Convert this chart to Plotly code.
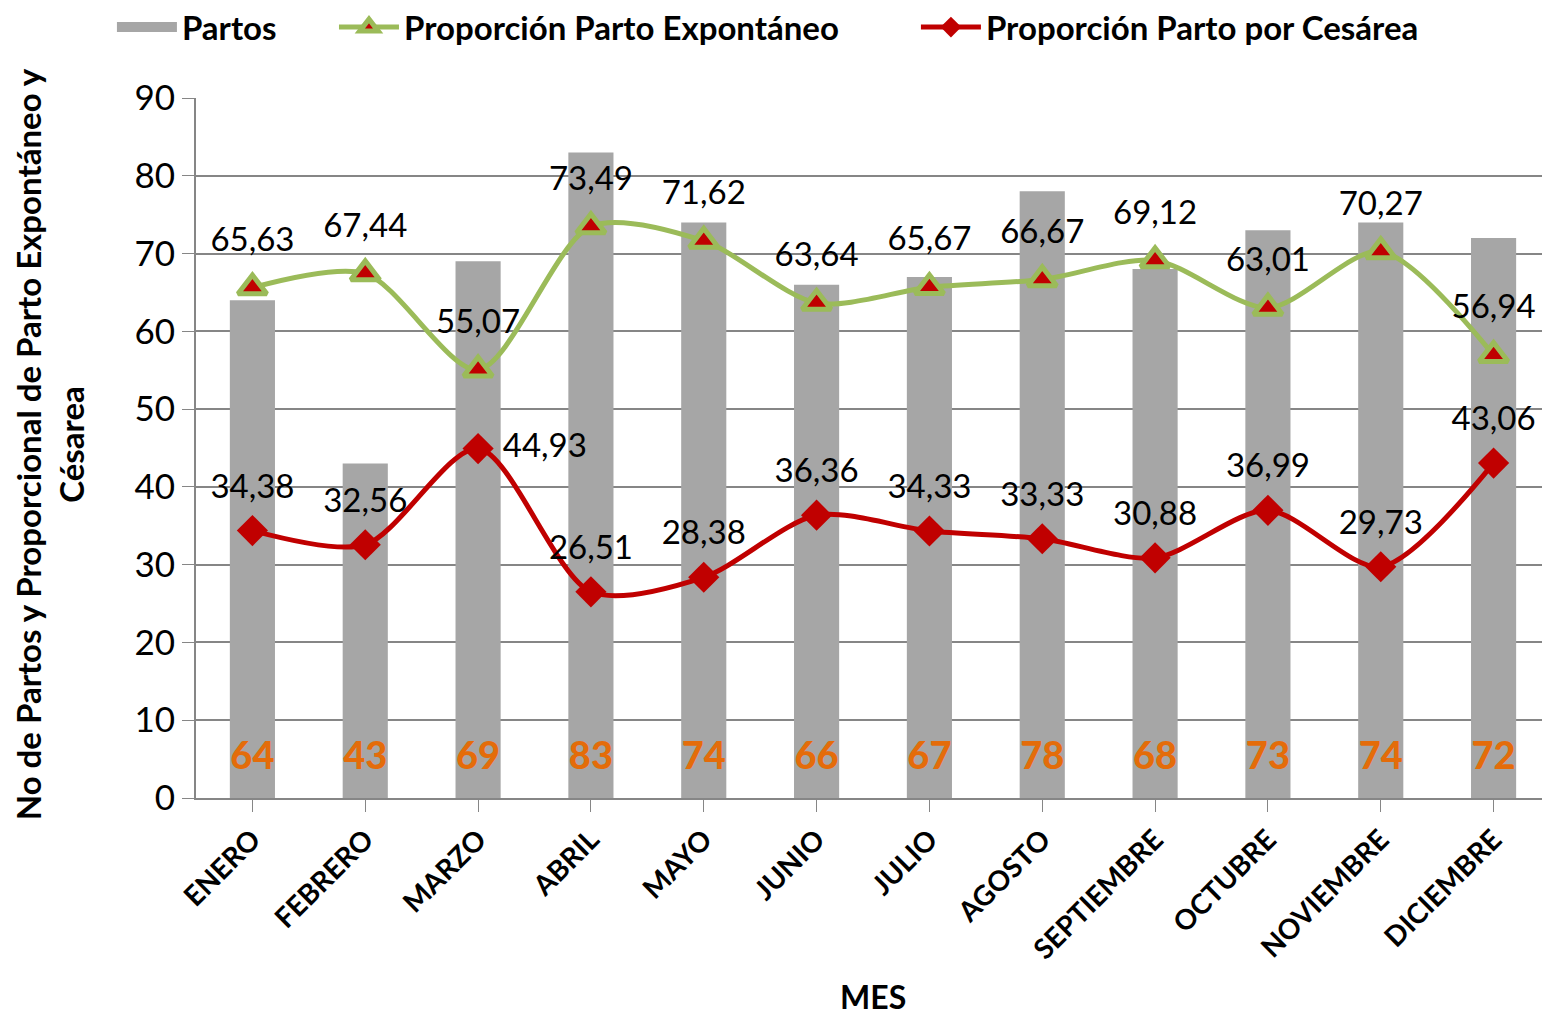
import plotly.graph_objects as go

meses = ["ENERO", "FEBRERO", "MARZO", "ABRIL", "MAYO", "JUNIO", "JULIO",
         "AGOSTO", "SEPTIEMBRE", "OCTUBRE", "NOVIEMBRE", "DICIEMBRE"]
partos = [64, 43, 69, 83, 74, 66, 67, 78, 68, 73, 74, 72]
espontaneo = [65.63, 67.44, 55.07, 73.49, 71.62, 63.64, 65.67, 66.67, 69.12, 63.01, 70.27, 56.94]
cesarea = [34.38, 32.56, 44.93, 26.51, 28.38, 36.36, 34.33, 33.33, 30.88, 36.99, 29.73, 43.06]

def fmt(v):
    return f"{v:.2f}".replace(".", ",")

FONT = "Lato"
GREEN = "#9BBB59"
RED = "#C00000"
GRAY = "#A6A6A6"

fig = go.Figure()
fig.add_trace(go.Bar(
    x=meses, y=partos, name="Partos", marker=dict(color=GRAY, line=dict(width=0)),
    width=0.4, showlegend=False,
))
# legend entry for the bars (wide grey swatch, like the original)
fig.add_trace(go.Scatter(
    x=[None], y=[None], mode="lines", name="Partos",
    line=dict(color=GRAY, width=18), legend="legend",
))
fig.add_trace(go.Scatter(
    x=meses, y=[5] * len(meses), mode="text", text=[str(p) for p in partos],
    textfont=dict(family=FONT, size=38, color="#E46C0A", weight=900),
    showlegend=False, hoverinfo="skip",
))
fig.add_trace(go.Scatter(
    x=meses, y=espontaneo, name="Proporción Parto Expontáneo",
    mode="lines+markers", line=dict(color=GREEN, width=5, shape="spline", smoothing=0.8),
    marker=dict(symbol="triangle-up", size=25, color=RED, line=dict(color=GREEN, width=5)),
    cliponaxis=False, legend="legend2",
))
fig.add_trace(go.Scatter(
    x=meses, y=espontaneo, mode="markers+text", showlegend=False, hoverinfo="skip",
    marker=dict(size=44, opacity=0),
    text=[fmt(v) for v in espontaneo], textposition="top center",
    textfont=dict(family=FONT, size=33, color="black"), cliponaxis=False,
))
fig.add_trace(go.Scatter(
    x=meses, y=cesarea, name="Proporción Parto por Cesárea",
    mode="lines+markers", line=dict(color=RED, width=5, shape="spline", smoothing=0.8),
    marker=dict(symbol="diamond", size=24, color=RED),
    cliponaxis=False, legend="legend3",
))
cpos = ["top center", "top center", "middle right", "top center", "top center", "top center",
        "top center", "top center", "top center", "top center", "top center", "top center"]
fig.add_trace(go.Scatter(
    x=meses, y=cesarea, mode="markers+text", showlegend=False, hoverinfo="skip",
    marker=dict(size=38, opacity=0),
    text=[fmt(v) for v in cesarea], textposition=cpos,
    textfont=dict(family=FONT, size=33, color="black"), cliponaxis=False,
))

leg_common = dict(orientation="h", xanchor="left", yanchor="middle", y=0.981,
                  yref="container", xref="container",
                  font=dict(family=FONT, size=33, weight="bold"),
                  itemwidth=60, bgcolor="rgba(0,0,0,0)")
fig.update_layout(
    width=1542, height=1009,
    margin=dict(l=188, r=0, t=90, b=219, autoexpand=False),
    plot_bgcolor="white", paper_bgcolor="white",
    font=dict(family=FONT, color="black"),
    showlegend=True,
    legend=dict(x=0.0674, **leg_common),
    legend2=dict(x=0.2114, **leg_common),
    legend3=dict(x=0.5888, **leg_common),
    bargap=0.6,
)
fig.update_xaxes(
    tickangle=-45, tickfont=dict(family=FONT, size=28, weight="bold"),
    showline=True, linecolor="#868686", linewidth=2,
    ticks="outside", ticklen=12, tickcolor="#868686",
    range=[-0.5, 11.5], automargin=False,
)
fig.update_yaxes(
    range=[0, 90], dtick=10, tickfont=dict(family=FONT, size=35),
    showgrid=True, gridcolor="#868686", gridwidth=2,
    showline=True, linecolor="#868686", linewidth=2,
    ticks="outside", ticklen=12, tickcolor="#868686", zeroline=False,
    automargin=False,
)
fig.add_annotation(
    text="MES", xref="paper", yref="paper", x=0.5, y=-0.284, yanchor="middle",
    showarrow=False, font=dict(family=FONT, size=32, weight="bold"),
)
fig.add_annotation(
    text="No de Partos y Proporcional de Parto Expontáneo y<br>Césarea",
    xref="paper", yref="paper", x=-0.108, y=0.505, xanchor="center", yanchor="middle",
    textangle=-90, showarrow=False, font=dict(family=FONT, size=33, weight="bold"),
)

fig.write_html("out.html")
